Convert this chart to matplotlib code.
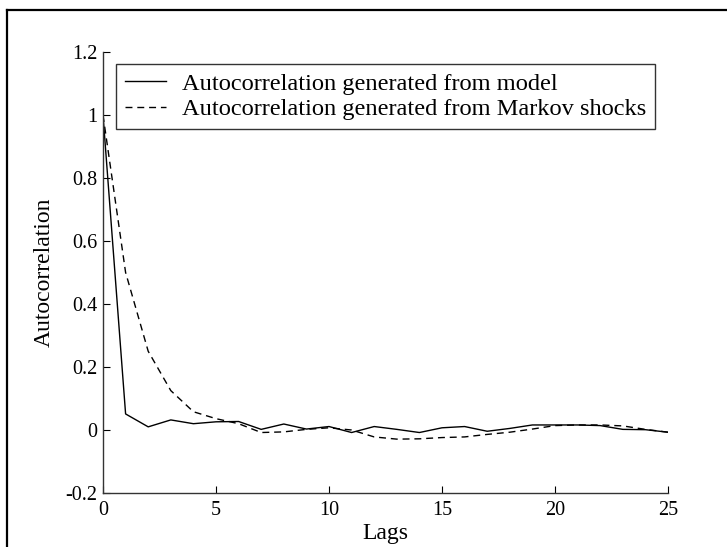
import matplotlib.pyplot as plt
from matplotlib.lines import Line2D

lags = list(range(26))
acf_model = [1.0, 0.051, 0.010, 0.032, 0.020, 0.026, 0.027, 0.002, 0.019, 0.003,
             0.011, -0.008, 0.011, 0.002, -0.008, 0.007, 0.011, -0.004, 0.005, 0.016,
             0.016, 0.016, 0.014, 0.002, 0.001, -0.007]
acf_markov = [1.0, 0.50, 0.25, 0.125, 0.058, 0.036, 0.020, -0.008, -0.006, 0.002,
              0.007, 0.000, -0.022, -0.029, -0.028, -0.024, -0.022, -0.014, -0.007, 0.003,
              0.014, 0.016, 0.016, 0.013, 0.002, -0.007]
xticks = [0, 5, 10, 15, 20, 25]
yticks = [-0.2, 0, 0.2, 0.4, 0.6, 0.8, 1, 1.2]
ytick_labels = ['-0.2', '0', '0.2', '0.4', '0.6', '0.8', '1', '1.2']

plt.rcParams['font.family'] = 'Liberation Serif'

fig = plt.figure(figsize=(7.27, 5.47), dpi=100)
ax = fig.add_axes([103 / 727, 1 - 493 / 547, 565 / 727, 441 / 547])

ax.plot(lags, acf_model, color='black', linewidth=1.0,
        label='Autocorrelation generated from model')
ax.plot(lags, acf_markov, color='black', linewidth=1.0, dashes=(5, 3.5),
        label='Autocorrelation generated from Markov shocks')

ax.set_xlim(0, 25)
ax.set_ylim(-0.2, 1.2)
ax.set_xticks(xticks)
ax.set_yticks(yticks)
ax.set_yticklabels(ytick_labels)
ax.tick_params(direction='in', length=5, width=0.8, labelsize=14.5)
ax.tick_params(axis='x', pad=6)
ax.tick_params(axis='y', pad=4)
ax.spines['top'].set_visible(False)
ax.spines['right'].set_visible(False)
for s in ['left', 'bottom']:
    ax.spines[s].set_color('#333333')
    ax.spines[s].set_linewidth(1.0)

ax.set_xlabel('Lags', fontsize=17, labelpad=2)
ax.set_ylabel('Autocorrelation', fontsize=17, labelpad=8)

leg = ax.legend(loc='upper left', bbox_to_anchor=(0.023, 0.973), borderaxespad=0,
                fancybox=False, edgecolor='black', fontsize=17.6, handlelength=1.7,
                labelspacing=0.15, borderpad=0.35, handletextpad=0.65)
leg.get_frame().set_linewidth(1.0)

# outer frame (partially cut off like the source picture)
fig.add_artist(Line2D([7 / 727, 7 / 727], [0, 537 / 547], color='black', linewidth=1.6))
fig.add_artist(Line2D([7 / 727, 1], [537 / 547, 537 / 547], color='black', linewidth=1.6))

fig.savefig('out.png', dpi=100)
